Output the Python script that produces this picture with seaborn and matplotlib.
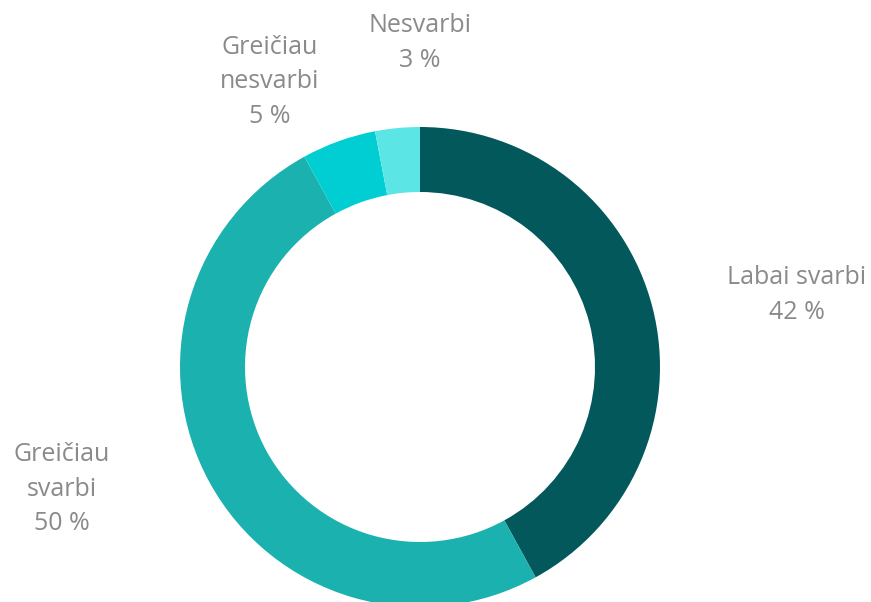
import seaborn as sns
import matplotlib.pyplot as plt

labels = ['Labai svarbi', 'Greičiau\nsvarbi', 'Greičiau\nnesvarbi', 'Nesvarbi']
values = [42, 50, 5, 3]
colors = ['#02585B', '#1BB1AE', '#00CED3', '#5CE5E5']

sns.set_theme(style='white')
plt.rcParams['font.family'] = ['Open Sans', 'DejaVu Sans']

fig = plt.figure(figsize=(8.71, 6.02), dpi=100)
ax = fig.add_axes([0, 0, 1, 1])

ax.pie(values, colors=colors, startangle=90, counterclock=False,
       radius=240, center=(420, 602 - 367),
       wedgeprops=dict(width=65, linewidth=0))

ax.set_xlim(0, 871)
ax.set_ylim(0, 602)
ax.set_aspect('equal')
ax.axis('off')

# label anchor positions (pixel space, y from bottom)
label_pos = [(797, 602 - 295), (62, 602 - 489), (270, 602 - 82), (420, 602 - 43)]
for lab, val, (x, y) in zip(labels, values, label_pos):
    ax.text(x, y, f'{lab}\n{val} %', ha='center', va='center',
            fontsize=18, color='#8A8A8A', linespacing=1.5)

fig.savefig('out.png', dpi=100)
